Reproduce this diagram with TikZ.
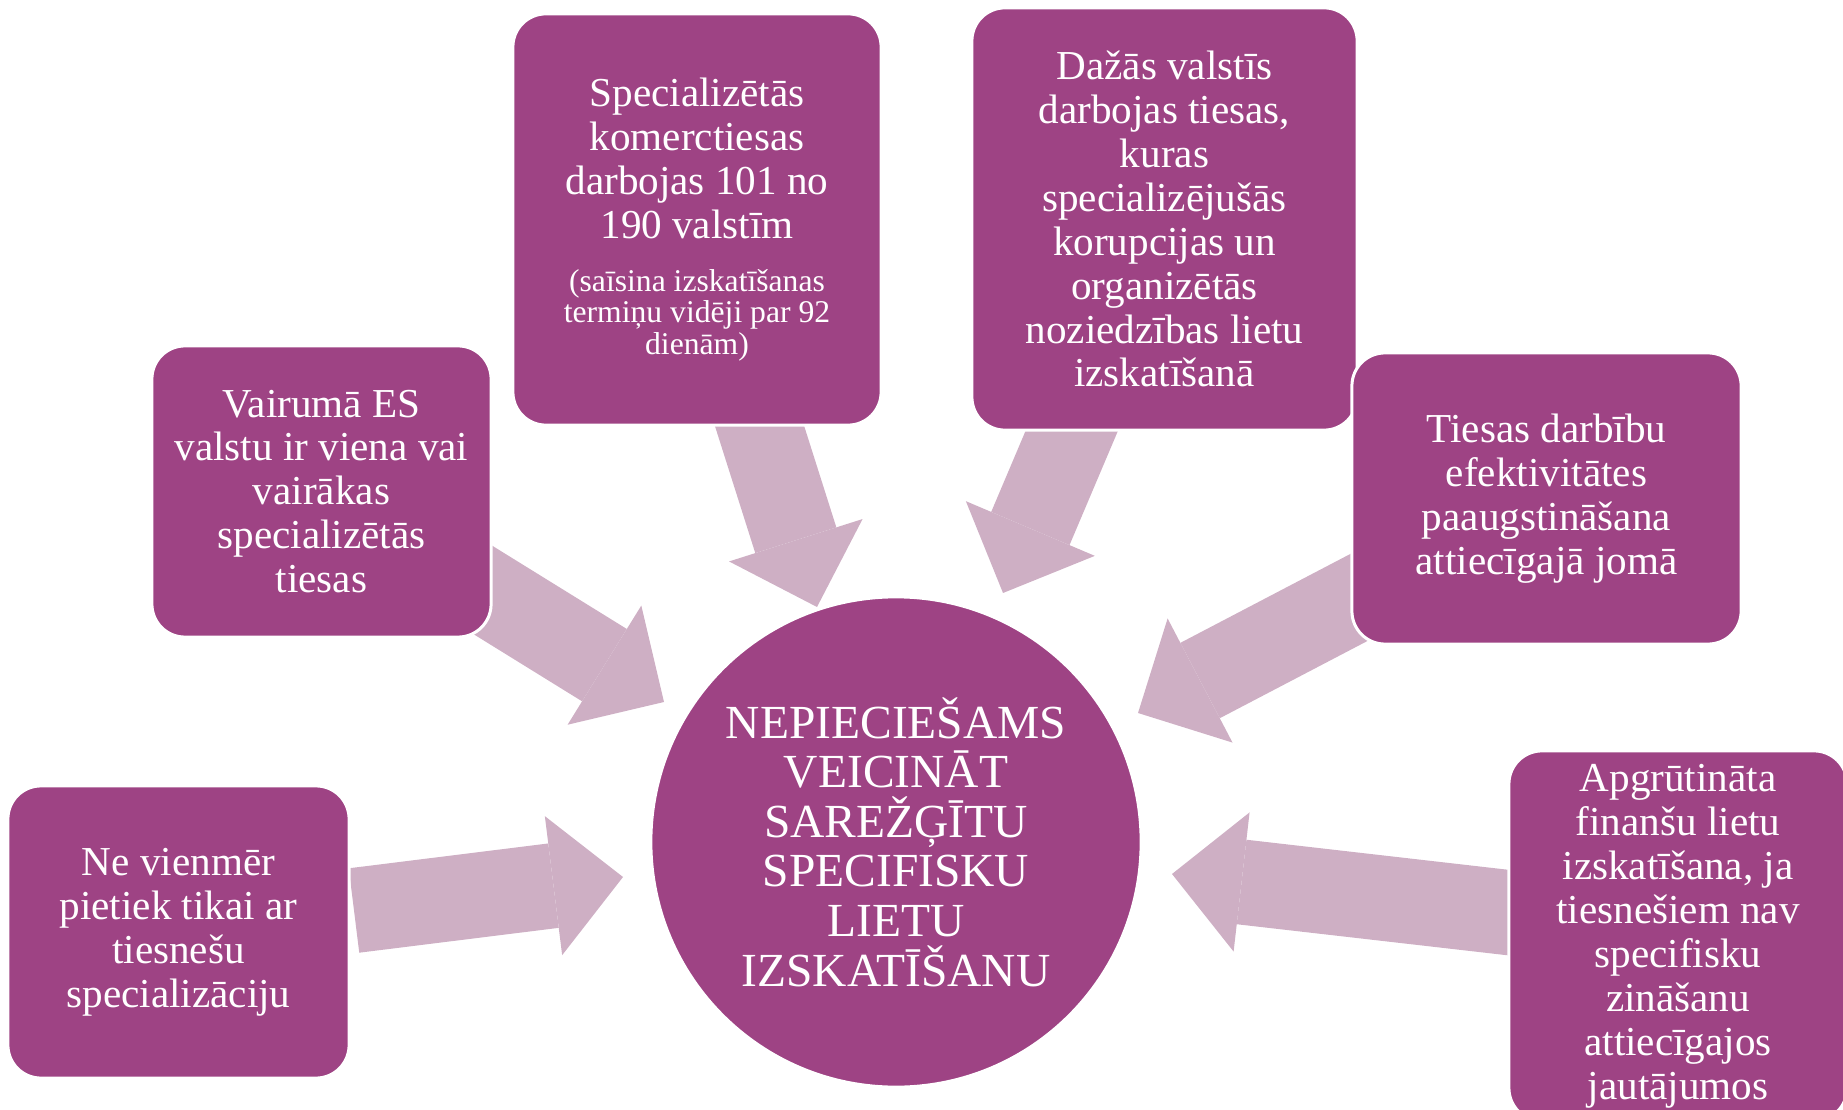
\documentclass[tikz,border=0pt]{standalone}
\usepackage{fontspec}
\setmainfont{Liberation Serif}
\usetikzlibrary{arrows.meta,backgrounds}

\definecolor{boxpurple}{HTML}{9E4384}
\definecolor{arrowpink}{HTML}{CEAFC4}
\newcommand{\smalltxt}{\fontsize{9}{9.3}\selectfont}

\begin{document}
\begin{tikzpicture}[x=0.01cm,y=-0.01cm]
        \useasboundingbox (0,0) rectangle (1843,1110);

        \begin{scope}[every node/.style={fill=boxpurple,draw=white,line width=0.03cm,rounded corners=0.33cm,
                      inner sep=0pt,align=center,text=white,font=\fontsize{11.7}{12.5}\selectfont}]
            \node (spec) [minimum width=3.68cm,minimum height=4.11cm] at (697,219.5)
                {Specializētās\\ komerctiesas\\ darbojas 101 no\\ 190 valstīm\\[2.6pt]
                 \smalltxt (saīsina izskatīšanas\\[-3.5pt] \smalltxt termiņu vidēji par 92\\[-3.5pt] \smalltxt dienām)};
            \node (dazas) [minimum width=3.85cm,minimum height=4.22cm] at (1164.5,219)
                {Dažās valstīs\\ darbojas tiesas,\\ kuras\\ specializējušās\\ korupcijas un\\ organizētās\\ noziedzības lietu\\ izskatīšanā};
            \node (vair) [minimum width=3.39cm,minimum height=2.91cm] at (321.5,491.5)
                {Vairumā ES\\ valstu ir viena vai\\ vairākas\\ specializētās\\ tiesas};
            \node (tiesas) [minimum width=3.89cm,minimum height=2.91cm] at (1546.5,498.5)
                {Tiesas darbību\\ efektivitātes\\ paaugstināšana\\ attiecīgajā jomā};
            \node (nevien) [minimum width=3.41cm,minimum height=2.92cm] at (178.5,932)
                {Ne vienmēr\\ pietiek tikai ar\\ tiesnešu\\ specializāciju};
            \node (apgr) [minimum width=3.38cm,minimum height=3.70cm] at (1678,936)
                {Apgrūtināta\\ finanšu lietu\\ izskatīšana, ja\\ tiesnešiem nav\\ specifisku\\ zināšanu\\ attiecīgajos\\ jautājumos};
        \end{scope}

        \node (hub) [circle,fill=boxpurple,draw=white,line width=0.03cm,minimum size=4.9cm,inner sep=0pt,
                     align=center,text=white,font=\fontsize{13.5}{14.1}\selectfont] at (896,842)
            {NEPIECIEŠAMS\\ VEICINĀT\\ SAREŽĢĪTU\\ SPECIFISKU\\ LIETU\\ IZSKATĪŠANU};

        \begin{scope}[on background layer,
                      >={Triangle[length=0.7cm,width=1.4cm,line width=0pt]},
                      every edge/.style={draw=arrowpink,line width=0.85cm}]
            \coordinate (vair-out) at (455.5,573);
            \coordinate (vair-in) at (664,702);
            \coordinate (spec-out) at (748.4,390.9);
            \coordinate (spec-in) at (817,607);
            \coordinate (dazas-out) at (1085.6,398.2);
            \coordinate (dazas-in) at (1003,593);
            \coordinate (tiesas-out) at (1389.4,581.5);
            \coordinate (tiesas-in) at (1138,713);
            \coordinate (nevien-out) at (354,910.5);
            \coordinate (nevien-in) at (623,877);
            \coordinate (apgr-out) at (1525,914.5);
            \coordinate (apgr-in) at (1172,874);

            \path [->] (vair-out) edge (vair-in);
            \path [->] (spec-out) edge (spec-in);
            \path [->] (dazas-out) edge (dazas-in);
            \path [->] (tiesas-out) edge (tiesas-in);
            \path [->] (nevien-out) edge (nevien-in);
            \path [->] (apgr-out) edge (apgr-in);
        \end{scope}
    \end{tikzpicture}
\end{document}
